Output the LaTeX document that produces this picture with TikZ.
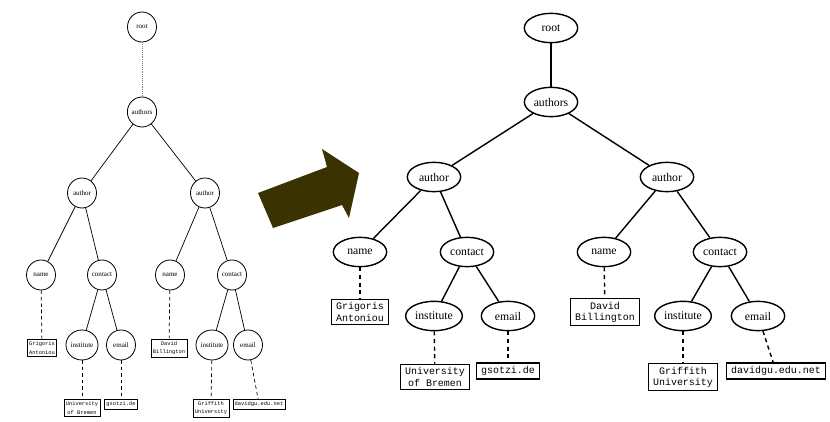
\documentclass[tikz,border=0pt]{standalone}
\usepackage{fontspec}
\setmainfont{Liberation Serif}
\setmonofont{Liberation Mono}
\usetikzlibrary{shapes.geometric}
\definecolor{arrowolive}{RGB}{58,50,0}

\begin{document}
\begin{tikzpicture}[x=0.03cm,y=-0.03cm,
  bignode/.style={ellipse,draw,line width=1.2pt,minimum width=1.6cm,minimum height=0.88cm,inner sep=1pt,font=\fontsize{10}{12}\selectfont},
  bigleaf/.style={rectangle,draw,line width=1.2pt,align=center,inner xsep=4pt,inner ysep=3pt,font=\ttfamily\fontsize{8.5}{9.5}\selectfont},
  smallnode/.style={ellipse,draw,line width=0.7pt,minimum width=0.87cm,minimum height=0.9cm,inner sep=0pt,font=\fontsize{6}{7}\selectfont},
  smallleaf/.style={rectangle,draw,line width=0.6pt,align=center,inner xsep=1.5pt,inner ysep=2pt,font=\ttfamily\fontsize{4.6}{7}\selectfont},
  bigedge/.style={line width=1.2pt},
  bigdash/.style={line width=1.2pt,dash pattern=on 3.5pt off 3pt},
  smalledge/.style={line width=0.6pt},
  smalldash/.style={line width=0.6pt,dash pattern=on 3pt off 2.5pt}]
\useasboundingbox (0,0) rectangle (830,422);
% small tree
\node[smallnode](sroot)at(142,27){root};
\node[smallnode](sauthors)at(142,112){authors};
\node[smallnode](sauthA)at(82,193){author};
\node[smallnode](sauthB)at(205,193){author};
\node[smallnode](snameA)at(41,275){name};
\node[smallnode](scontA)at(102,275){contact};
\node[smallnode](snameB)at(170,275){name};
\node[smallnode](scontB)at(232,275){contact};
\node[smallleaf](snameAv)at(42,348){Grigoris\\Antoniou};
\node[smallnode](sinstA)at(82,345){institute};
\node[smallnode](smailA)at(121,345){email};
\node[smallleaf](snameBv)at(169,348){David\\Billington};
\node[smallnode](sinstB)at(212,345){institute};
\node[smallnode](smailB)at(248,345){email};
\node[smallleaf](sinstAv)at(82,408){University\\of Bremen};
\node[smallleaf](smailAv)at(121,404){gsotzi.de};
\node[smallleaf](sinstBv)at(211,408){Griffith\\University};
\node[smallleaf](smailBv)at(259,404){davidgu.edu.net};
\draw[line width=0.6pt,gray,densely dotted](sroot)--(sauthors);
\draw[smalledge](sauthors)--(sauthA);
\draw[smalledge](sauthors)--(sauthB);
\draw[smalledge](sauthA)--(snameA);
\draw[smalledge](sauthA)--(scontA);
\draw[smalledge](sauthB)--(snameB);
\draw[smalledge](sauthB)--(scontB);
\draw[smalledge](scontA)--(sinstA);
\draw[smalledge](scontA)--(smailA);
\draw[smalledge](scontB)--(sinstB);
\draw[smalledge](scontB)--(smailB);
\draw[smalldash](snameA)--(snameAv);
\draw[smalldash](snameB)--(snameBv);
\draw[smalldash](sinstA)--(sinstAv);
\draw[smalldash](smailA)--(smailAv);
\draw[smalldash](sinstB)--(sinstBv);
\draw[smalldash](smailB)--(smailBv);
% arrow
\fill[arrowolive](258,193)--(273,228)--(342,205)--(349,218)--(359,173)--(322,149)--(327,167)--cycle;
% big tree
\node[bignode](root)at(551,28){root};
\node[bignode](authors)at(551,102){authors};
\node[bignode](authA)at(434,177){author};
\node[bignode](authB)at(667,177){author};
\node[bignode](nameA)at(360,252){name};
\node[bignode](contA)at(467,252){contact};
\node[bignode](nameB)at(604,252){name};
\node[bignode](contB)at(720,252){contact};
\node[bigleaf](nameAv)at(360,312){Grigoris\\Antoniou};
\node[bignode](instA)at(434,316){institute};
\node[bignode](mailA)at(508,316){email};
\node[bigleaf](nameBv)at(605,312){David\\Billington};
\node[bignode](instB)at(683,316){institute};
\node[bignode](mailB)at(758,316){email};
\node[bigleaf](instAv)at(435,377){University\\of Bremen};
\node[bigleaf](mailAv)at(508,371){gsotzi.de};
\node[bigleaf](instBv)at(683,377){Griffith\\University};
\node[bigleaf](mailBv)at(776,371){davidgu.edu.net};
\draw[bigedge](root)--(authors);
\draw[bigedge](authors)--(authA);
\draw[bigedge](authors)--(authB);
\draw[bigedge](authA)--(nameA);
\draw[bigedge](authA)--(contA);
\draw[bigedge](authB)--(nameB);
\draw[bigedge](authB)--(contB);
\draw[bigedge](contA)--(instA);
\draw[bigedge](contA)--(mailA);
\draw[bigedge](contB)--(instB);
\draw[bigedge](contB)--(mailB);
\draw[bigdash](nameA)--(nameAv);
\draw[bigdash](nameB)--(nameBv);
\draw[bigdash](instA)--(instAv);
\draw[bigdash](mailA)--(mailAv);
\draw[bigdash](instB)--(instBv);
\draw[bigdash](mailB)--(mailBv);
\end{tikzpicture}
\end{document}
